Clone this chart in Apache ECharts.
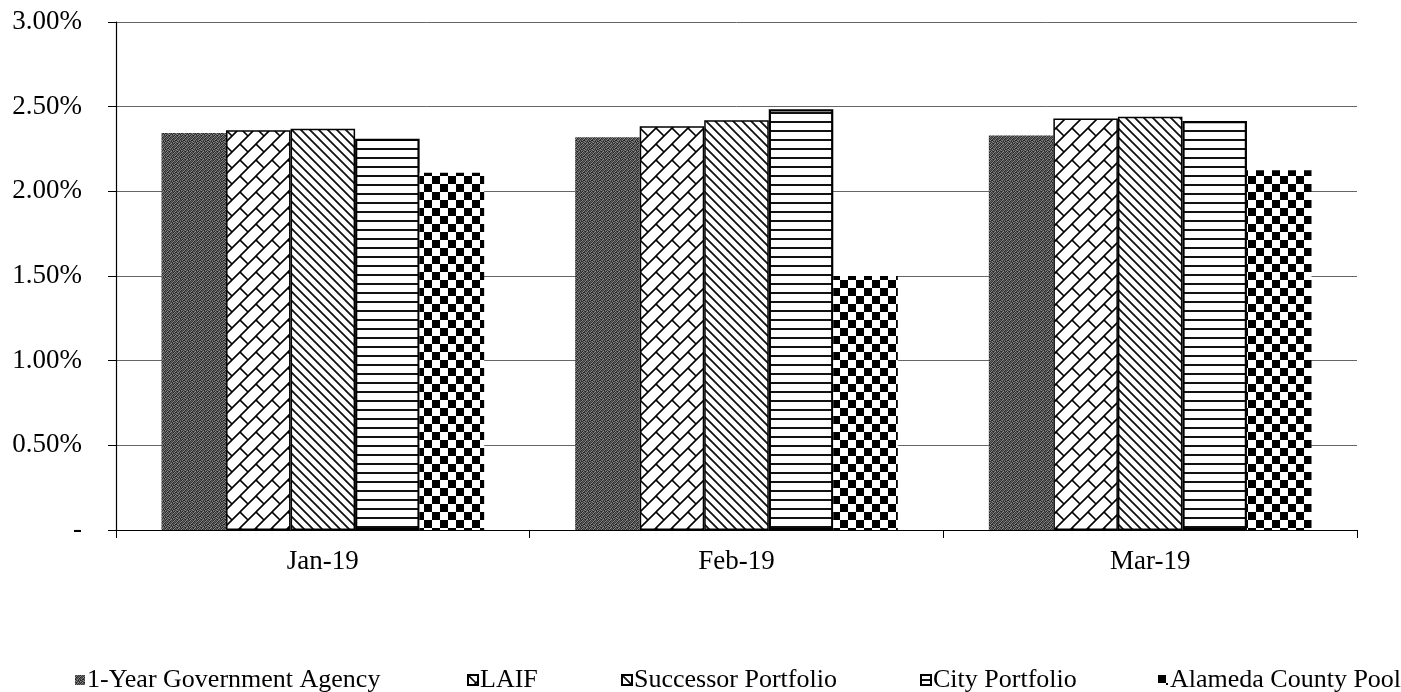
<!DOCTYPE html>
<html>
<head>
<meta charset="utf-8">
<script src="https://cdn.jsdelivr.net/npm/echarts@6/dist/echarts.min.js"></script>
<style>
html,body{margin:0;padding:0;background:#fff;}
#chart{width:1401px;height:692px;}
</style>
</head>
<body>
<div id="chart"></div>
<script>
// ---- data ----
var categories = ['Jan-19', 'Feb-19', 'Mar-19'];
var seriesNames = ['1-Year Government Agency', 'LAIF', 'Successor Portfolio', 'City Portfolio', 'Alameda County Pool'];
var govAgency = [2.345, 2.32, 2.33];
var laif = [2.36, 2.385, 2.43];
var successor = [2.37, 2.42, 2.44];
var cityPortfolio = [2.31, 2.485, 2.415];
var alamedaPool = [2.11, 1.50, 2.125];
var yTicks = [0, 0.5, 1.0, 1.5, 2.0, 2.5, 3.0];

// ---- pattern tiles ----
function tile(w, h, draw) {
  var c = document.createElement('canvas');
  c.width = w; c.height = h;
  var ctx = c.getContext('2d');
  ctx.fillStyle = '#fff';
  ctx.fillRect(0, 0, w, h);
  draw(ctx, w, h);
  return { image: c, repeat: 'repeat' };
}
var govPattern = tile(8, 8, function (ctx) {
  var map = [
    '21312031',
    '13021312',
    '30213021',
    '12130213',
    '02312130',
    '31203012',
    '23120321',
    '10231203'
  ];
  var shades = ['#222', '#3c3c3c', '#5e5e5e', '#888'];
  for (var y = 0; y < 8; y++) for (var x = 0; x < 8; x++) {
    ctx.fillStyle = shades[+map[y][x]];
    ctx.fillRect(x, y, 1, 1);
  }
});
var laifPattern = tile(16, 16, function (ctx) {
  ctx.strokeStyle = '#000';
  ctx.lineWidth = 1.6;
  ctx.beginPath();
  ctx.moveTo(-2, 18); ctx.lineTo(18, -2);
  ctx.moveTo(-2, 2); ctx.lineTo(2, -2);
  ctx.moveTo(14, 18); ctx.lineTo(18, 14);
  ctx.moveTo(0, 0); ctx.lineTo(8, 8);
  ctx.stroke();
});
var succPattern = tile(9, 9, function (ctx) {
  ctx.strokeStyle = '#111';
  ctx.lineWidth = 1.8;
  ctx.beginPath();
  ctx.moveTo(-2, -2); ctx.lineTo(11, 11);
  ctx.moveTo(7, -2); ctx.lineTo(11, 2);
  ctx.moveTo(-2, 7); ctx.lineTo(2, 11);
  ctx.stroke();
});
var cityPattern = tile(8, 9, function (ctx) {
  ctx.fillStyle = '#111';
  ctx.fillRect(0, 4, 8, 2);
});
var alamedaPattern = tile(16, 16, function (ctx) {
  ctx.fillStyle = '#000';
  ctx.fillRect(0, 0, 8, 8);
  ctx.fillRect(8, 8, 8, 8);
});

var serif = '"Liberation Serif", "DejaVu Serif", serif';

function bar(name, data, color, bw) {
  return {
    name: name, type: 'bar', data: data,
    barGap: '0%', barCategoryGap: '22%',
    itemStyle: { color: color, borderColor: '#000', borderWidth: bw },
    emphasis: { disabled: true }
  };
}

var chart = echarts.init(document.getElementById('chart'), null, { renderer: 'canvas' });

var legendLefts = [70, 462, 616, 915, 1153];
var legends = seriesNames.map(function (n, i) {
  return {
    data: [n], left: legendLefts[i], top: 662,
    itemWidth: 10, itemHeight: 10, itemGap: 0, icon: 'rect',
    textStyle: { fontFamily: serif, fontSize: 26, color: '#000', padding: [0, 0, 0, -3] },
    selectedMode: false
  };
});

chart.setOption({
  animation: false,
  backgroundColor: '#fff',
  grid: { left: 116, right: 44, top: 22, bottom: 162, containLabel: false },
  legend: legends,
  xAxis: {
    type: 'category', data: categories,
    axisLine: { lineStyle: { color: '#000', width: 1.2 } },
    axisTick: { show: true, alignWithLabel: false, length: 8, lineStyle: { color: '#000' } },
    axisLabel: { fontFamily: serif, fontSize: 27, color: '#000', margin: 18 },
    splitLine: { show: false }
  },
  yAxis: {
    type: 'value', min: 0, max: 3, interval: 0.5,
    axisLine: { show: true, lineStyle: { color: '#000', width: 1.2 } },
    axisTick: { show: true, length: 8, lineStyle: { color: '#000' } },
    axisLabel: {
      fontFamily: serif, fontSize: 27, color: '#000', margin: 34,
      formatter: function (v) {
        return yTicks.indexOf(v) === 0 ? '-' : v.toFixed(2) + '%';
      }
    },
    splitLine: { show: true, lineStyle: { color: '#666', width: 1 } }
  },
  series: [
    bar(seriesNames[0], govAgency, govPattern, 0),
    bar(seriesNames[1], laif, laifPattern, 1.5),
    bar(seriesNames[2], successor, succPattern, 1.5),
    bar(seriesNames[3], cityPortfolio, cityPattern, 2.2),
    bar(seriesNames[4], alamedaPool, alamedaPattern, 0)
  ]
});
</script>
</body>
</html>
